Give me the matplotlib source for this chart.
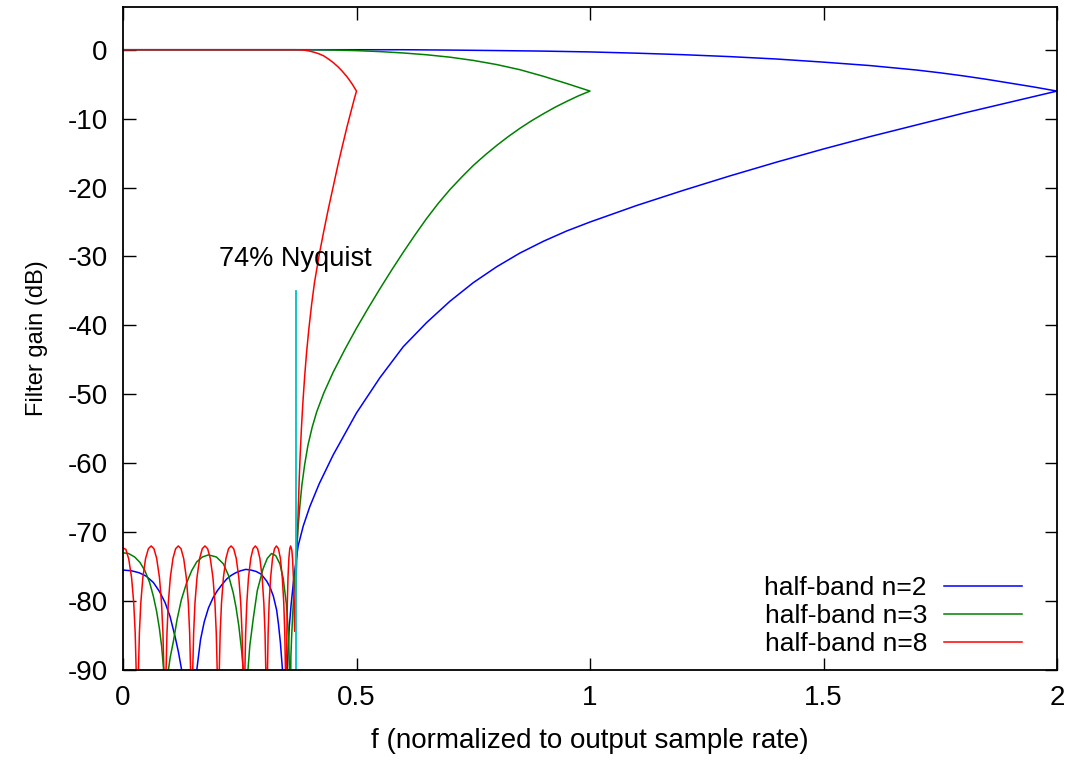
import numpy as np
import matplotlib
matplotlib.use("Agg")
import matplotlib.pyplot as plt

plt.rcParams['font.family'] = ['Liberation Sans', 'DejaVu Sans']
plt.rcParams['axes.unicode_minus'] = False

# each curve: passband (f going up) then folded stopband (f going back down)
n2_pass_f = [0.0, 0.6, 0.7, 0.8, 0.9, 1.0, 1.1, 1.2, 1.3, 1.4, 1.5, 1.6, 1.7, 1.75, 1.8, 1.85, 1.9, 1.95, 2.0]
n2_pass_db = [0.0, 0.0, -0.05, -0.12, -0.2, -0.32, -0.5, -0.72, -1.0, -1.35, -1.8, -2.3, -2.95, -3.35, -3.8,
              -4.3, -4.85, -5.4, -6.0]
n2_stop_f = [2.0, 1.9, 1.8, 1.7, 1.6, 1.5, 1.4, 1.3, 1.2, 1.1, 1.0, 0.95, 0.9, 0.85, 0.8, 0.75, 0.7, 0.65,
             0.6, 0.55, 0.5, 0.45, 0.42, 0.4, 0.386, 0.375, 0.37, 0.365, 0.36, 0.356, 0.3525, 0.347,
             0.3415, 0.337, 0.333, 0.329, 0.322, 0.315, 0.3077, 0.296, 0.285, 0.274, 0.263, 0.252, 0.241,
             0.231, 0.222, 0.212, 0.202, 0.193, 0.183, 0.174, 0.166, 0.158, 0.141,
             0.1256, 0.119, 0.112, 0.1006, 0.09, 0.078, 0.065, 0.05, 0.035, 0.018, 0.0]
n2_stop_db = [-6.0, -7.6, -9.2, -10.9, -12.6, -14.4, -16.3, -18.3, -20.4, -22.6, -25.0, -26.3, -27.8, -29.5,
              -31.5, -33.8, -36.5, -39.6, -43.1, -47.6, -52.7, -58.8, -63.0, -66.3, -69.1, -72.0, -74.5,
              -77.2, -80.5, -83.8, -88.5, -100.0,
              -90.0, -86.0, -83.4, -81.3, -79.3, -78.0, -77.1, -76.1, -75.7, -75.5, -75.4, -75.6, -75.9,
              -76.3, -76.8, -77.6, -78.5, -79.5, -81.0, -83.0, -85.6, -90.0, -100.0,
              -90.0, -87.5, -85.3, -82.2, -80.2, -78.6, -77.3, -76.4, -75.9, -75.6, -75.5]

n3_pass_f = [0.0, 0.2, 0.4, 0.45, 0.5, 0.55, 0.6, 0.65, 0.7, 0.75, 0.8, 0.85, 0.9, 0.95, 1.0]
n3_pass_db = [0.0, 0.0, 0.0, -0.05, -0.13, -0.27, -0.47, -0.73, -1.08, -1.55, -2.15, -2.9, -3.85, -4.9, -6.0]
n3_stop_f = [1.0, 0.975, 0.95, 0.925, 0.9, 0.875, 0.85, 0.825, 0.8, 0.775, 0.75, 0.725, 0.7, 0.675,
             0.65, 0.625, 0.6, 0.575, 0.55, 0.525, 0.5, 0.475, 0.45, 0.43, 0.415, 0.405, 0.396, 0.389,
             0.383, 0.379, 0.375, 0.372, 0.369, 0.366, 0.3635, 0.3612, 0.3595, 0.358,
             0.3565, 0.3545, 0.35, 0.343, 0.336, 0.327, 0.318, 0.309, 0.3, 0.2875, 0.279, 0.2715, 0.2676, 0.263,
             0.2576, 0.254, 0.248, 0.242, 0.236, 0.226, 0.215, 0.2, 0.183, 0.17, 0.158, 0.147, 0.136,
             0.125, 0.116, 0.108, 0.101, 0.0955, 0.0905,
             0.087, 0.0828, 0.078, 0.072, 0.065, 0.057, 0.047, 0.0364, 0.025, 0.012, 0.0]
n3_stop_db = [-6.0, -6.7, -7.5, -8.35, -9.3, -10.3, -11.4, -12.6, -13.9, -15.3, -16.8, -18.5, -20.3, -22.3,
              -24.5, -26.9, -29.4, -32.0, -34.7, -37.5, -40.4, -43.5, -46.8, -49.8, -52.5, -54.8, -57.4, -60.2,
              -63.2, -66.0, -69.2, -72.2, -75.5, -78.8, -81.8, -85.0, -88.0, -100.0,
              -90.0, -85.0, -80.5, -76.7, -74.6, -73.4, -73.1, -73.8, -75.3, -78.5, -82.5, -86.5, -90.0, -100.0,
              -90.0, -87.2, -83.6, -80.9, -78.8, -76.3, -74.6, -73.6, -73.3, -73.6, -74.3, -75.6, -77.4,
              -79.8, -82.6, -85.8, -88.2, -90.8, -100.0,
              -90.0, -86.6, -84.0, -81.5, -79.3, -77.3, -75.6, -74.4, -73.6, -73.1, -73.0]

n8_pass_f = [0.0, 0.1, 0.2, 0.3, 0.37, 0.38, 0.39, 0.4, 0.41, 0.42, 0.43, 0.44, 0.45, 0.46, 0.47, 0.48,
             0.49, 0.5]
n8_pass_db = [0.0, 0.0, 0.0, 0.0, 0.0, -0.02, -0.08, -0.2, -0.38, -0.6, -0.9, -1.35, -1.85, -2.45, -3.15,
              -3.95, -4.9, -6.0]
n8_stop_f = [0.5, 0.495, 0.49, 0.48, 0.47, 0.46, 0.45, 0.44, 0.43, 0.42, 0.41, 0.404, 0.398, 0.393,
             0.389, 0.385, 0.382, 0.3795, 0.3775, 0.376, 0.3745, 0.373, 0.3715, 0.37, 0.3688, 0.3675,
             0.3668, 0.366, 0.3648, 0.3632, 0.3615, 0.359, 0.3571, 0.3552, 0.3533, 0.3519, 0.3509, 0.3503, 0.3495,
             0.3478, 0.3464, 0.3443, 0.3411, 0.337, 0.3328, 0.3286, 0.3244, 0.3202, 0.3161, 0.3129, 0.3108, 0.3094, 0.3077,
             0.3058, 0.3041, 0.3016, 0.298, 0.2931, 0.2882, 0.2834, 0.2785, 0.2736, 0.2687, 0.2651, 0.2627, 0.261, 0.259,
             0.2568, 0.2549, 0.2521, 0.248, 0.2425, 0.237, 0.2315, 0.226, 0.2205, 0.215, 0.2109, 0.2081, 0.2062, 0.204,
             0.2017, 0.1997, 0.1969, 0.1926, 0.1869, 0.1812, 0.1755, 0.1698, 0.1641, 0.1584, 0.1541, 0.1513, 0.1493, 0.147,
             0.1447, 0.1427, 0.1399, 0.1356, 0.1299, 0.1242, 0.1185, 0.1127, 0.107, 0.1013, 0.097, 0.0942, 0.0922, 0.0899,
             0.0875, 0.0855, 0.0825, 0.0781, 0.0721, 0.0662, 0.0603, 0.0544, 0.0484, 0.0425, 0.0381, 0.0351, 0.0331, 0.0307,
             0.0282, 0.0261, 0.023, 0.0184, 0.0123, 0.0061, 0.0]
n8_stop_db = [-6.0, -7.2, -8.5, -11.1, -13.9, -16.8, -19.9, -23.0, -26.3, -29.8, -33.8, -36.9, -40.5, -44.0,
              -47.4, -51.4, -55.0, -58.6, -62.0, -65.0, -68.3, -71.8, -75.5, -79.2, -82.0, -84.4,
              -82.0, -79.5, -76.5, -74.0, -72.6, -72.0, -72.4, -73.8, -76.6, -80.3, -84.6, -90.0, -100.0,
              -90.0, -84.6, -80.3, -76.6, -73.8, -72.4, -72.0, -72.4, -73.8, -76.6, -80.3, -84.6, -90.0, -100.0,
              -90.0, -84.6, -80.3, -76.6, -73.8, -72.4, -72.0, -72.4, -73.8, -76.6, -80.3, -84.6, -90.0, -100.0,
              -90.0, -84.6, -80.3, -76.6, -73.8, -72.4, -72.0, -72.4, -73.8, -76.6, -80.3, -84.6, -90.0, -100.0,
              -90.0, -84.6, -80.3, -76.6, -73.8, -72.4, -72.0, -72.4, -73.8, -76.6, -80.3, -84.6, -90.0, -100.0,
              -90.0, -84.6, -80.3, -76.6, -73.8, -72.4, -72.0, -72.4, -73.8, -76.6, -80.3, -84.6, -90.0, -100.0,
              -90.0, -84.6, -80.3, -76.6, -73.8, -72.4, -72.0, -72.4, -73.8, -76.6, -80.3, -84.6, -90.0, -100.0,
              -90.0, -84.6, -80.3, -76.6, -73.9, -72.5, -72.3]

nyq_f = [0.37, 0.37]
nyq_db = [-35.0, -90.0]

x_ticks = [0, 0.5, 1, 1.5, 2]
x_labels = ['0', '0.5', '1', '1.5', '2']
y_ticks = [0, -10, -20, -30, -40, -50, -60, -70, -80, -90]

fig = plt.figure(figsize=(10.67, 7.62), dpi=100)
ax = fig.add_axes([123 / 1067, 1 - 670 / 762, (1057 - 123) / 1067, (670 - 7) / 762])

ax.plot(n2_pass_f + n2_stop_f, n2_pass_db + n2_stop_db, color='#0000ff', lw=1.1, label='half-band n=2')
ax.plot(n3_pass_f + n3_stop_f, n3_pass_db + n3_stop_db, color='#008000', lw=1.1, label='half-band n=3')
ax.plot(n8_pass_f + n8_stop_f, n8_pass_db + n8_stop_db, color='#ff0000', lw=1.1, label='half-band n=8')
ax.plot(nyq_f, nyq_db, color='#00c0c0', lw=1.3)
ax.text(0.37, -30.3, '74% Nyquist', ha='center', va='center', fontsize=19.5)

ax.set_xlim(0, 2)
ax.set_ylim(-90, 6.2)
ax.set_xticks(x_ticks)
ax.set_xticklabels(x_labels)
ax.set_yticks(y_ticks)
ax.tick_params(direction='in', length=9, width=1, top=True, right=True, labelsize=20)
ax.tick_params(axis='x', pad=11)
ax.tick_params(axis='y', pad=11)
for s in ax.spines.values():
    s.set_linewidth(1.3)
ax.set_xlabel('f (normalized to output sample rate)', fontsize=20, labelpad=12)
ax.set_ylabel('Filter gain (dB)', fontsize=17, labelpad=14)

ax.legend(loc='lower right', bbox_to_anchor=((1022 - 123) / 934, (670 - 656) / 663),
          frameon=False, markerfirst=False, fontsize=19, borderpad=0, borderaxespad=0,
          handlelength=2.95, handletextpad=0.65, labelspacing=0.15)

fig.savefig('out.png', dpi=100)
